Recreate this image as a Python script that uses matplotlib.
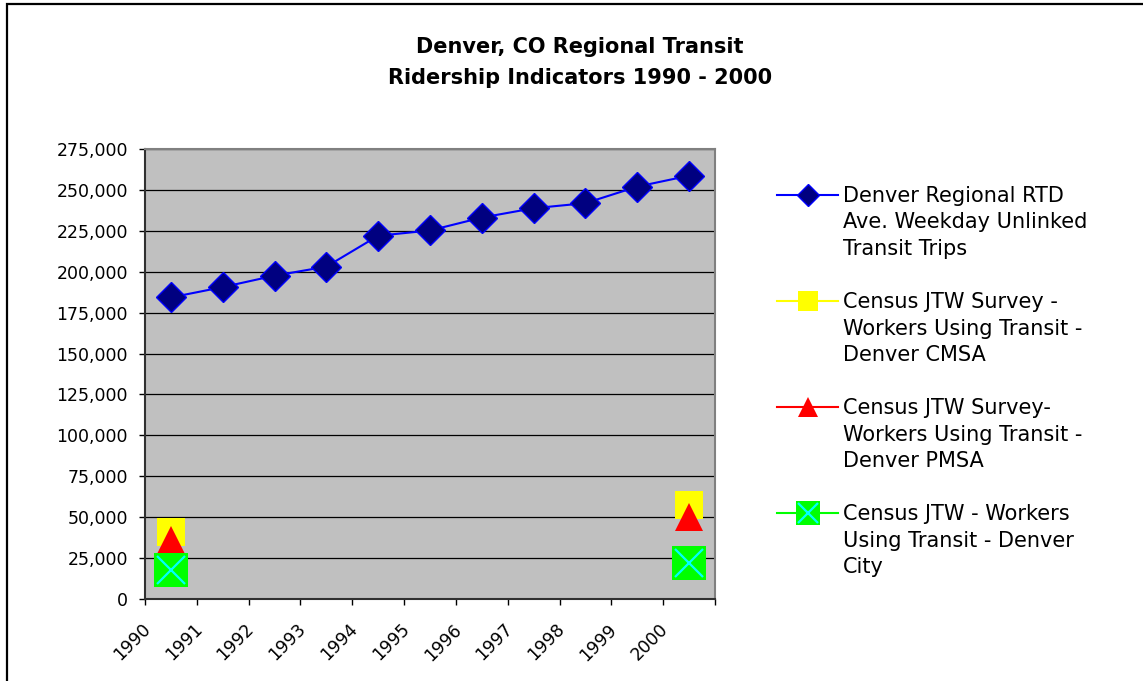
import numpy as np
import matplotlib
matplotlib.use("Agg")
import matplotlib.pyplot as plt
import matplotlib.transforms as mtransforms
from matplotlib.legend_handler import HandlerTuple
from matplotlib.patches import Rectangle

plt.rcParams['font.family'] = ['DejaVu Sans']

# ---------------- data ----------------
years = [1990, 1991, 1992, 1993, 1994, 1995, 1996, 1997, 1998, 1999, 2000]
rtd_trips = [184300, 190600, 197600, 203100, 222000, 225200, 233100, 238800, 241900, 252000, 258700]
cmsa_workers = [41000, None, None, None, None, None, None, None, None, None, 57500]
pmsa_workers = [36000, None, None, None, None, None, None, None, None, None, 50000]
city_workers = [18000, None, None, None, None, None, None, None, None, None, 22000]

labels = [
    "Denver Regional RTD\nAve. Weekday Unlinked\nTransit Trips",
    "Census JTW Survey -\nWorkers Using Transit -\nDenver CMSA",
    "Census JTW Survey-\nWorkers Using Transit -\nDenver PMSA",
    "Census JTW - Workers\nUsing Transit - Denver\nCity",
]
title_lines = "Denver, CO Regional Transit\nRidership Indicators 1990 - 2000"
y_ticks = list(range(0, 275001, 25000))


def arr(v):
    return np.array([np.nan if x is None else x for x in v], dtype=float)


W, H = 1143, 681
fig = plt.figure(figsize=(W / 100, H / 100), dpi=100)
fig.patch.set_facecolor("white")

# outer chart border (left and top visible)
fig.add_artist(Rectangle((7 / W, -0.1), 1.2, 1 - 4 / H + 0.1, transform=fig.transFigure,
                         fill=False, edgecolor="black", linewidth=1.6))

ax = fig.add_axes([145 / W, 1 - 599 / H, (715 - 145) / W, (599 - 149) / H])
ax.set_facecolor("#C0C0C0")

x = np.arange(len(years)) + 0.5

l1, = ax.plot(x, arr(rtd_trips), color="#0000FF", linewidth=1.5, marker="D",
              markersize=15.5, markerfacecolor="#000080", markeredgecolor="#0000FF",
              markeredgewidth=1.0, zorder=5)
l2, = ax.plot(x, arr(cmsa_workers), color="#FFFF00", linewidth=1.5, marker="s",
              markersize=19.5, markerfacecolor="#FFFF00", markeredgecolor="#FFFF00",
              markeredgewidth=0, zorder=4)
l3, = ax.plot(x, arr(pmsa_workers), color="#FF0000", linewidth=1.5, marker="^",
              markersize=20.5, markerfacecolor="#FF0000", markeredgecolor="#FF0000",
              markeredgewidth=0, zorder=5)
l4, = ax.plot(x, arr(city_workers), color="#00FF00", linewidth=1.5, marker="s",
              markersize=24, markerfacecolor="#00FF00", markeredgecolor="#00FF00",
              markeredgewidth=0, zorder=6)
l4x, = ax.plot(x, arr(city_workers), linestyle="none", marker="x",
               markersize=20, markeredgecolor="#00FFFF", markeredgewidth=1.6, zorder=7)

ax.set_xlim(0, len(years))
ax.set_ylim(0, 275000)
ax.set_yticks(y_ticks)
ax.set_yticklabels([f"{v:,}" for v in y_ticks])
ax.set_xticks(np.arange(len(years) + 1))
ax.set_xticklabels([str(y) for y in years] + [""])

ax.yaxis.grid(True, color="black", linewidth=0.9)
ax.set_axisbelow(True)

for s in ["top", "right"]:
    ax.spines[s].set_color("#808080")
    ax.spines[s].set_linewidth(1.5)
for s in ["left", "bottom"]:
    ax.spines[s].set_color("#303030")
    ax.spines[s].set_linewidth(1.5)

ax.tick_params(axis="y", direction="out", length=4.3, width=1, color="black",
               labelsize=12.5, pad=8, labelcolor="black")
ax.tick_params(axis="x", direction="out", length=4.3, width=1, color="black",
               labelsize=12.5, pad=11, labelcolor="black")

offset = mtransforms.ScaledTranslation(9 / 100, 0, fig.dpi_scale_trans)
for lab in ax.get_xticklabels():
    lab.set_rotation(45)
    lab.set_ha("right")
    lab.set_va("top")
    lab.set_transform(lab.get_transform() + offset)

fig.text(580 / W, 1 - 62.5 / H, title_lines, ha="center", va="center",
         fontsize=15, fontweight="bold", linespacing=1.65)

leg = ax.legend([l1, l2, l3, (l4, l4x)], labels,
                handler_map={tuple: HandlerTuple(ndivide=1)},
                loc="upper left", bbox_to_anchor=(777 / W, 1 - 186 / H),
                bbox_transform=fig.transFigure, frameon=False,
                fontsize=15, handlelength=2.93, handletextpad=0.24,
                handleheight=1.15,
                labelspacing=1.6, markerscale=0.72, borderaxespad=0,
                borderpad=0)
for t in leg.get_texts():
    t.set_linespacing(1.4)
# align each legend handle with the first line of its label
for col in leg._legend_handle_box.get_children():
    for row in col.get_children():
        row.align = "top"

fig.savefig("out.png", dpi=100, facecolor="white")
